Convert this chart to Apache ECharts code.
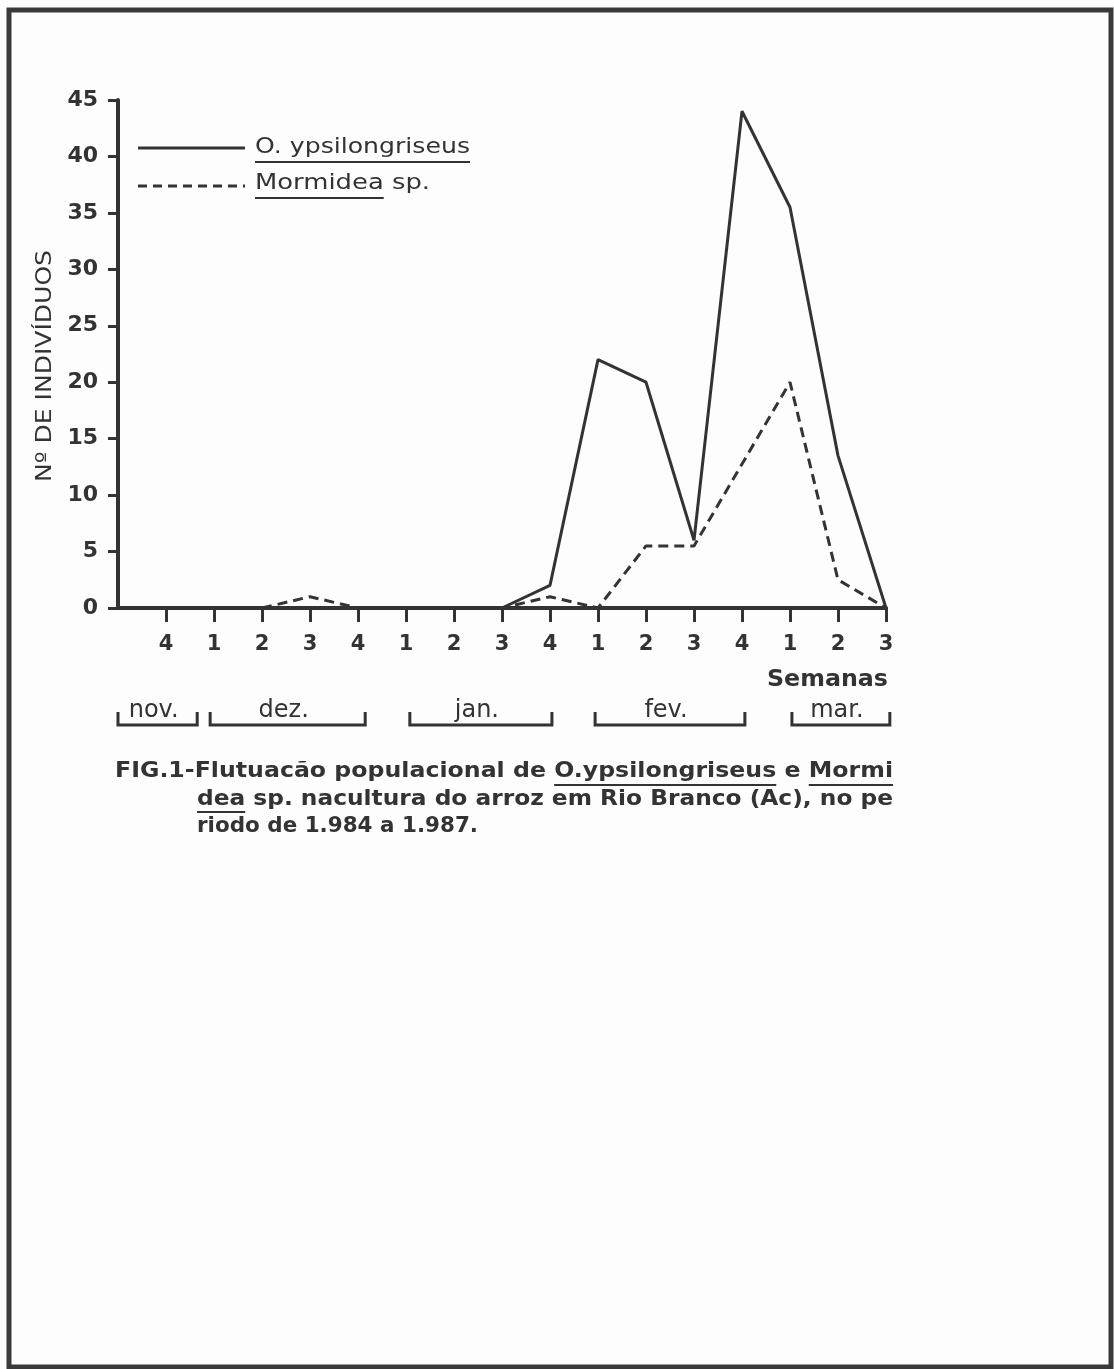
<!DOCTYPE html>
<html>
<head>
<meta charset="utf-8">
<script src="https://cdn.jsdelivr.net/npm/echarts@6/dist/echarts.min.js"></script>
<style>
  html, body { margin: 0; padding: 0; background: #fdfdfd; }
  #chart { width: 1114px; height: 1369px; }
</style>
</head>
<body>
<div id="chart"></div>
<script>
// ---- data ----
const weekLabels = ['', '4', '1', '2', '3', '4', '1', '2', '3', '4', '1', '2', '3', '4', '1', '2', '3'];
const oYpsilongriseus = [0, 0, 0, 0, 0, 0, 0, 0, 0, 2, 22, 20, 6, 44, 35.5, 13.5, 0];
const mormidea = [null, null, null, 0, 1, 0, 0, 0, 0, 1, 0, 5.5, 5.5, null, 20, 2.5, 0];
const seriesNames = ['O. ypsilongriseus', 'Mormidea sp.'];
const months = ['nov.', 'dez.', 'jan.', 'fev.', 'mar.'];
const yMin = 0, yMax = 45, yInterval = 5;
const yAxisTitle = 'Nº DE INDIVÍDUOS';
const xAxisTitle = 'Semanas';
const captionLines = [
  'FIG.1-Flutuacão populacional de O.ypsilongriseus e Mormi',
  'dea sp. nacultura do arroz em Rio Branco (Ac), no pe',
  'riodo de 1.984 a 1.987.'
];

// ---- layout (not data) ----
const monthSpans = [[0, 1.65], [1.92, 5.15], [6.08, 9.04], [9.94, 13.06], [14.04, 16.08]];
const INK = '#333333';
const FAM = '"DejaVu Sans", "Liberation Sans", sans-serif';

const chart = echarts.init(document.getElementById('chart'));
chart.setOption({
  backgroundColor: '#fdfdfd',
  animation: false,
  grid: { left: 118, right: 228, top: 100, bottom: 761, containLabel: false },
  xAxis: {
    type: 'category',
    data: weekLabels,
    boundaryGap: false,
    axisLine: { lineStyle: { color: INK, width: 4 } },
    axisTick: {
      alignWithLabel: true,
      interval: function (i) { return i !== 0; },
      length: 14,
      lineStyle: { color: INK, width: 3 }
    },
    axisLabel: {
      interval: 0, margin: 26, color: INK,
      fontFamily: FAM, fontWeight: 'bold', fontSize: 21
    },
    splitLine: { show: false }
  },
  yAxis: {
    type: 'value',
    min: yMin, max: yMax, interval: yInterval,
    axisLine: { show: true, lineStyle: { color: INK, width: 4 } },
    axisTick: { show: true, length: 10, lineStyle: { color: INK, width: 3 } },
    axisLabel: {
      margin: 20, color: INK,
      fontFamily: FAM, fontWeight: 'bold', fontSize: 22
    },
    splitLine: { show: false }
  },
  series: [
    {
      name: seriesNames[0], type: 'line', data: oYpsilongriseus,
      symbol: 'none', connectNulls: true,
      lineStyle: { color: INK, width: 3 }, z: 3
    },
    {
      name: seriesNames[1], type: 'line', data: mormidea,
      symbol: 'none', connectNulls: true,
      lineStyle: { color: INK, width: 3, type: [10, 6] }, z: 4
    }
  ]
});

// ---- annotation graphics ----
const ctx = document.createElement('canvas').getContext('2d');
function measure(text, font) { ctx.font = font; return ctx.measureText(text).width; }

const g = [];
// page frame
g.push({ type: 'rect', shape: { x: 9, y: 10, width: 1102, height: 1357 },
  style: { fill: null, stroke: '#3a3a3a', lineWidth: 5 }, silent: true });

function fittedText(text, font, left, cy, width, opts) {
  const s = width / measure(text, font);
  g.push(Object.assign({
    type: 'text', x: left, y: cy, scaleX: s,
    style: { text: text, font: font, fill: INK, textAlign: 'left', textVerticalAlign: 'middle' },
    silent: true
  }, opts || {}));
  return s;
}
function underline(text, font, left, scale, prefix, part, y) {
  const x0 = left + measure(prefix, font) * scale;
  const x1 = x0 + measure(part, font) * scale;
  g.push({ type: 'line', shape: { x1: x0, y1: y, x2: x1, y2: y },
    style: { stroke: INK, lineWidth: 2 }, silent: true });
}

// legend
const legFont = '22px ' + FAM;
g.push({ type: 'line', shape: { x1: 138, y1: 148, x2: 245, y2: 148 }, style: { stroke: INK, lineWidth: 3 }, silent: true });
g.push({ type: 'line', shape: { x1: 138, y1: 186, x2: 245, y2: 186 }, style: { stroke: INK, lineWidth: 3, lineDash: [9, 6] }, silent: true });
let s1 = fittedText(seriesNames[0], legFont, 255, 147, 215);
underline(seriesNames[0], legFont, 255, s1, '', seriesNames[0], 162);
let s2 = fittedText(seriesNames[1], legFont, 255, 183, 175);
underline(seriesNames[1], legFont, 255, s2, '', 'Mormidea', 198);

// y-axis title (rotated)
const yFont = '21px ' + FAM;
const ys = 232 / measure(yAxisTitle, yFont);
g.push({ type: 'text', x: 46, y: 366, rotation: Math.PI / 2, scaleX: ys,
  style: { text: yAxisTitle, font: yFont, fill: INK, textAlign: 'center', textVerticalAlign: 'middle' }, silent: true });

// x-axis title
fittedText(xAxisTitle, 'bold 23px ' + FAM, 767, 680, 121);

// month brackets
const px0 = chart.convertToPixel({ xAxisIndex: 0 }, 0);
const px1 = chart.convertToPixel({ xAxisIndex: 0 }, 1);
const step = px1 - px0;
const mFont = '24px ' + FAM;
months.forEach(function (m, i) {
  const a = px0 + monthSpans[i][0] * step;
  const b = px0 + monthSpans[i][1] * step;
  g.push({ type: 'polyline', shape: { points: [[a, 712], [a, 725], [b, 725], [b, 712]] },
    style: { stroke: INK, lineWidth: 3, fill: null }, silent: true });
  g.push({ type: 'text', x: (a + b) / 2 - 4, y: 711,
    style: { text: m, font: mFont, fill: INK, textAlign: 'center', textVerticalAlign: 'middle' }, silent: true });
});

// caption
const cFont = 'bold 22px ' + FAM;
const c1 = fittedText(captionLines[0], cFont, 115, 771, 778);
underline(captionLines[0], cFont, 115, c1, 'FIG.1-Flutuacão populacional de ', 'O.ypsilongriseus', 785);
underline(captionLines[0], cFont, 115, c1, 'FIG.1-Flutuacão populacional de O.ypsilongriseus e ', 'Mormi', 785);
const c2 = fittedText(captionLines[1], cFont, 197, 799, 696);
underline(captionLines[1], cFont, 197, c2, '', 'dea', 812);
const c3 = fittedText(captionLines[2], cFont, 197, 826, 281);

chart.setOption({ graphic: g });
</script>
</body>
</html>
